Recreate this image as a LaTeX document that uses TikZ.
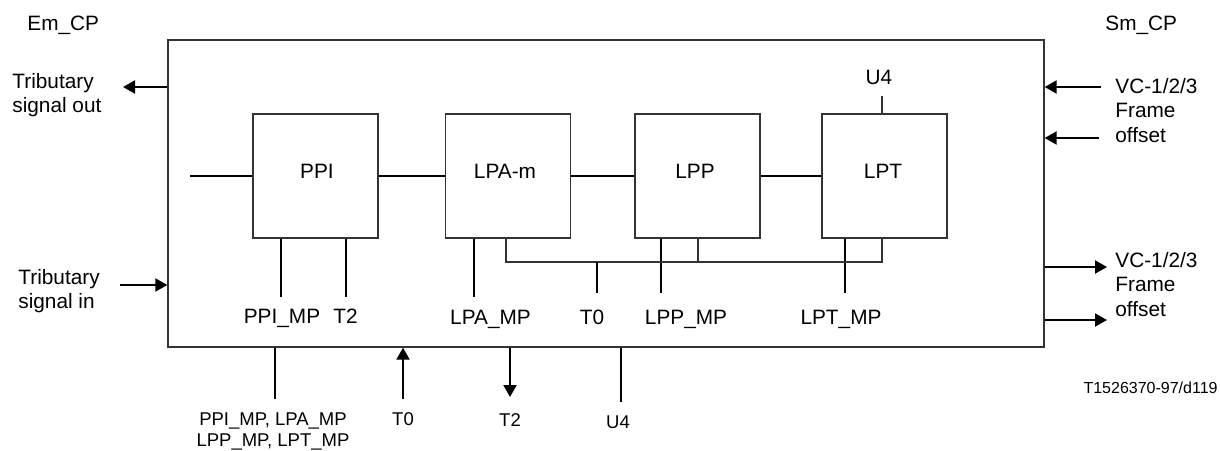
\documentclass[tikz,border=0pt]{standalone}
\usepackage{fontspec}
\setmainfont{Liberation Sans}
\usetikzlibrary{arrows.meta}
\newcommand{\mainsz}{\fontsize{10.4pt}{12pt}\selectfont}
\newcommand{\vcsz}{\fontsize{10.4pt}{12.25pt}\selectfont}
\newcommand{\botsz}{\fontsize{9.25pt}{10.75pt}\selectfont}
\newcommand{\footsz}{\fontsize{8pt}{9.6pt}\selectfont}
\begin{document}
\begin{tikzpicture}[x=0.5pt,y=-0.5pt,
  frame/.style={draw=black!80,line width=0.65pt,inner sep=0pt},
  box/.style={frame,minimum width=62.5pt,minimum height=62pt},
  sig/.style={line width=1pt},
  fine/.style={line width=0.65pt,draw=black!80},
  arr/.style={line width=1pt,-{Triangle[length=6pt,width=6.5pt]}},
  lbl/.style={inner sep=0pt,font=\mainsz},
  vcl/.style={inner sep=0pt,font=\vcsz,align=left},
  bot/.style={inner sep=0pt,font=\botsz},
]
\useasboundingbox (0,0) rectangle (1220,450);

% outer block
\node[frame,minimum width=438pt,minimum height=153.5pt] (outer) at (606,193.5) {};

% inner blocks
\node[box] (ppi) at (315.5,176) {};
\node[box] (lpa) at (508,176) {};
\node[box] (lpp) at (697.5,176) {};
\node[box] (lpt) at (884.5,176) {};
\node[lbl,anchor=base] (ppit) at (317,178) {PPI};
\node[lbl,anchor=base] (lpat) at (505,178) {LPA-m};
\node[lbl,anchor=base] (lppt) at (695,178) {LPP};
\node[lbl,anchor=base] (lptt) at (883,178) {LPT};

% chain
\coordinate (inL) at (190,176);
\draw[sig] (inL) -- (ppi.west);
\draw[sig] (ppi.east) -- (lpa.west);
\draw[sig] (lpa.east) -- (lpp.west);
\draw[sig] (lpp.east) -- (lpt.west);

% U4 on top of LPT
\coordinate (u4e) at (882,96);
\draw[fine] (u4e |- lpt.north) -- (u4e);
\node[lbl,anchor=base] (u4t) at (879,84) {U4};

% management / timing lines below blocks
\coordinate (ppimp) at (281,297);
\coordinate (ppit2) at (346,297);
\coordinate (lpamp) at (474,297);
\coordinate (lppmp) at (661,293);
\coordinate (lptmp) at (845,293);
\draw[sig] (ppimp |- ppi.south) -- (ppimp);
\draw[sig] (ppit2 |- ppi.south) -- (ppit2);
\draw[sig] (lpamp |- lpa.south) -- (lpamp);
\draw[sig] (lppmp |- lpp.south) -- (lppmp);
\draw[sig] (lptmp |- lpt.south) -- (lptmp);

% T0 bus
\coordinate (busL) at (506,262);
\coordinate (busM) at (698,262);
\coordinate (busR) at (882,262);
\coordinate (t0e) at (597,293);
\draw[fine] (busL |- lpa.south) -- (busL) -- (busR) -- (busR |- lpt.south);
\draw[fine] (busM |- lpp.south) -- (busM);
\draw[sig] (t0e |- busL) -- (t0e);

\node[lbl,anchor=base] (ppimpt) at (282,323) {PPI\_MP};
\node[lbl,anchor=base] (t2t) at (345.5,323) {T2};
\node[lbl,anchor=base] (lpampt) at (490.5,324) {LPA\_MP};
\node[lbl,anchor=base] (t0t) at (592,324) {T0};
\node[lbl,anchor=base] (lppmpt) at (686,324) {LPP\_MP};
\node[lbl,anchor=base] (lptmpt) at (841,324) {LPT\_MP};

% corner labels
\node[lbl,anchor=base west] (emcp) at (27,30) {Em\_CP};
\node[lbl,anchor=base west] (smcp) at (1105,30) {Sm\_CP};

% tributary signals (left)  (multi-line nodes: base = last line)
\coordinate (tso) at (123,87);
\coordinate (tsi) at (120,285);
\draw[arr] (outer.west |- tso) -- (tso);
\draw[arr] (tsi) -- (outer.west |- tsi);
\node[lbl,anchor=base west,align=left] (tsot) at (12,112) {Tributary\\signal out};
\node[lbl,anchor=base west,align=left] (tsit) at (18,308.5) {Tributary\\signal in};

% VC frame offsets (right)
\coordinate (vci1) at (1101,87);
\coordinate (vci2) at (1099,138);
\coordinate (vco1) at (1107,267);
\coordinate (vco2) at (1107,320);
\draw[arr] (vci1) -- (outer.east |- vci1);
\draw[arr] (vci2) -- (outer.east |- vci2);
\draw[arr] (outer.east |- vco1) -- (vco1);
\draw[arr] (outer.east |- vco2) -- (vco2);
\node[vcl,anchor=base west] (vcit) at (1115,142) {VC-1/2/3\\Frame\\offset};
\node[vcl,anchor=base west] (vcot) at (1115,316) {VC-1/2/3\\Frame\\offset};

% bottom interfaces
\coordinate (bmp) at (275,399);
\coordinate (bt0) at (403,399);
\coordinate (bt2) at (510,397);
\coordinate (bu4) at (621,402);
\draw[sig] (outer.south -| bmp) -- (bmp);
\draw[arr] (bt0) -- (outer.south -| bt0);
\draw[arr] (outer.south -| bt2) -- (bt2);
\draw[sig] (outer.south -| bu4) -- (bu4);
\node[bot,anchor=base,align=center] (bmpt) at (273,446.5) {PPI\_MP, LPA\_MP\\LPP\_MP, LPT\_MP};
\node[bot,anchor=base] (bt0t) at (403,425) {T0};
\node[bot,anchor=base] (bt2t) at (510,426) {T2};
\node[bot,anchor=base] (bu4t) at (618,428) {U4};

% figure id
\node[inner sep=0pt,font=\footsz,anchor=base east] (fid) at (1218,393) {T1526370-97/d119};
\end{tikzpicture}
\end{document}
